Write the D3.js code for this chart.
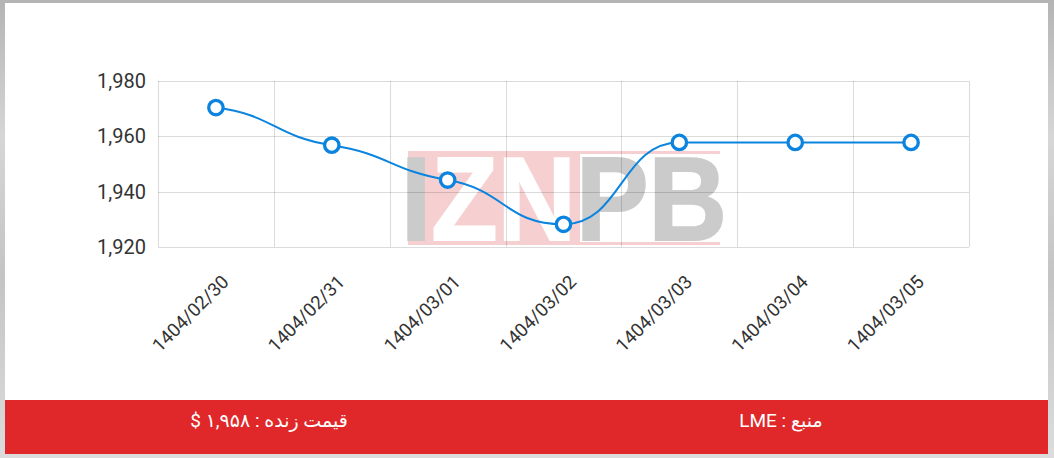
<!DOCTYPE html>
<html>
<head>
<meta charset="utf-8">
<script src="https://cdn.jsdelivr.net/npm/d3@7"></script>
<style>
  html, body { margin: 0; padding: 0; }
  body { width: 1054px; height: 458px; overflow: hidden;
    background: linear-gradient(180deg, #b4b4b4 0%, #d6d6d6 30%, #c4c4c4 60%, #dcdcdc 100%); }
  svg { position: absolute; left: 0; top: 0; }
</style>
</head>
<body>
<svg id="chart" width="1054" height="458"></svg>
<script>
const categories = ["1404/02/30", "1404/02/31", "1404/03/01", "1404/03/02", "1404/03/03", "1404/03/04", "1404/03/05"];
const values = [1970.4, 1956.8, 1944.2, 1928.2, 1957.8, 1957.8, 1957.8];
const yTicks = [1920, 1940, 1960, 1980];
const livePriceLabel = "قیمت زنده : ۱,۹۵۸ $";
const sourceLabel = "منبع : LME";

const svg = d3.select("#chart");

// inner white panel
svg.append("rect").attr("x", 5).attr("y", 3).attr("width", 1043).attr("height", 451).attr("fill", "#fff");

const plot = { left: 158, right: 969, top: 81, bottom: 247 };

const x = d3.scaleBand().domain(categories).range([plot.left, plot.right]);
const y = d3.scaleLinear().domain([1920, 1980]).range([plot.bottom, plot.top]);

// watermark
const wm = svg.append("g").attr("class", "watermark");
wm.append("rect").attr("x", 408).attr("y", 151).attr("width", 172).attr("height", 94).attr("fill", "#f6d0d0");
wm.append("rect").attr("x", 408).attr("y", 151).attr("width", 312).attr("height", 3).attr("fill", "#f6d0d0");
wm.append("rect").attr("x", 408).attr("y", 242).attr("width", 312).attr("height", 3).attr("fill", "#f6d0d0");
const wt = wm.append("text")
  .attr("x", 401).attr("y", 240)
  .attr("textLength", 326).attr("lengthAdjust", "spacingAndGlyphs")
  .style("font-family", "'Liberation Sans', Arial, sans-serif")
  .style("font-weight", "bold").style("font-size", "119px")
  .attr("stroke-width", 2);
wt.append("tspan").attr("fill", "#cbcbcb").attr("stroke", "#cbcbcb").text("I");
wt.append("tspan").attr("fill", "#ffffff").attr("stroke", "#ffffff").text("ZN");
wt.append("tspan").attr("fill", "#cbcbcb").attr("stroke", "#cbcbcb").text("PB");

// grid
const grid = svg.append("g").attr("stroke", "rgba(0,0,0,0.14)").attr("stroke-width", 1).attr("fill", "none");
grid.selectAll("line.h").data(yTicks).join("line")
  .attr("x1", plot.left).attr("x2", plot.right)
  .attr("y1", d => Math.round(y(d)) + 0.5).attr("y2", d => Math.round(y(d)) + 0.5);
const bounds = categories.map(c => x(c)).concat([plot.right]);
grid.selectAll("line.v").data(bounds).join("line")
  .attr("y1", plot.top).attr("y2", plot.bottom)
  .attr("x1", d => Math.round(d) + 0.5).attr("x2", d => Math.round(d) + 0.5);

// y axis labels
const yAxis = d3.axisLeft(y).tickValues(yTicks).tickFormat(d3.format(",")).tickSize(0).tickPadding(12);
const yg = svg.append("g").attr("transform", `translate(${plot.left},0)`).call(yAxis);
yg.select(".domain").remove();
yg.selectAll("text").style("font-family", "Roboto, sans-serif").style("font-size", "20px").attr("fill", "#333");

// x axis labels
const xAxis = d3.axisBottom(x).tickSize(0);
const xg = svg.append("g").attr("transform", `translate(0,${plot.bottom})`).call(xAxis);
xg.select(".domain").remove();
xg.selectAll("text")
  .style("font-family", "Roboto, sans-serif").style("font-size", "18.6px").attr("fill", "#333")
  .attr("text-anchor", "end").attr("dy", 0).attr("y", 0)
  .attr("transform", "translate(14,36) rotate(-45)");

// smoothed line: cubic segments with half-width handles and damped tangents
const data = categories.map((c, i) => ({ c, v: values[i] }));
const pts = data.map(d => ({ x: x(d.c) + x.bandwidth() / 2, y: y(d.v) }));
const handle = 0.5, damp = 0.5, endDamp = 0.4;
pts.forEach((p, i) => {
  const l = pts[i - 1], n = pts[i + 1];
  if (!l) { p.m = endDamp * (n.y - p.y) / (n.x - p.x); return; }
  if (!n) { p.m = endDamp * (p.y - l.y) / (p.x - l.x); return; }
  const s0 = (p.y - l.y) / (p.x - l.x), s1 = (n.y - p.y) / (n.x - p.x);
  p.m = (s0 * s1 <= 0) ? 0 : damp * (n.y - l.y) / (n.x - l.x);
});
const path = d3.path();
path.moveTo(pts[0].x, pts[0].y);
for (let i = 1; i < pts.length; i++) {
  const a = pts[i - 1], b = pts[i];
  const h = (b.x - a.x) * handle;
  path.bezierCurveTo(a.x + h, a.y + a.m * h, b.x - h, b.y - b.m * h, b.x, b.y);
}
svg.append("path").attr("fill", "none").attr("stroke", "#0b84df").attr("stroke-width", 2)
  .attr("d", path.toString());
svg.selectAll("circle.pt").data(pts).join("circle")
  .attr("cx", d => d.x).attr("cy", d => d.y).attr("r", 7.2)
  .attr("fill", "#fff").attr("stroke", "#0b84df").attr("stroke-width", 3.3);

// bottom bar
svg.append("rect").attr("x", 5).attr("y", 400).attr("width", 1043).attr("height", 54).attr("fill", "#e0282a");
svg.append("text").attr("x", 269).attr("y", 427).attr("text-anchor", "middle").attr("direction", "rtl")
  .style("font-family", "Roboto, 'DejaVu Sans', sans-serif").style("font-size", "19px").attr("fill", "#fff")
  .text(livePriceLabel);
svg.append("text").attr("x", 781).attr("y", 427).attr("text-anchor", "middle").attr("direction", "rtl")
  .style("font-family", "Roboto, 'DejaVu Sans', sans-serif").style("font-size", "19px").attr("fill", "#fff")
  .text(sourceLabel);
</script>
</body>
</html>
